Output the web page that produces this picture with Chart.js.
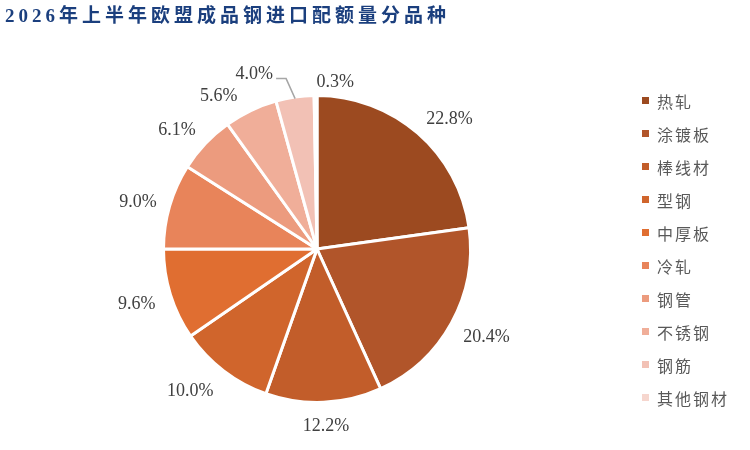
<!DOCTYPE html>
<html><head><meta charset="utf-8">
<script src="https://cdn.jsdelivr.net/npm/chart.js@4.4.1/dist/chart.umd.min.js"></script>
<style>
html,body{margin:0;padding:0;background:#fff;}
#wrap{position:relative;width:750px;height:450px;overflow:hidden;}
#title{position:absolute;left:5px;top:3px;font-family:"Liberation Serif","Noto Sans CJK SC",serif;font-weight:bold;font-size:19px;line-height:25px;letter-spacing:4px;color:#1B3F7E;white-space:nowrap;}
canvas{position:absolute;left:0;top:0;}
</style></head><body>
<div id="wrap"><canvas id="c" width="750" height="450"></canvas><div id="title">2026年上半年欧盟成品钢进口配额量分品种</div></div>
<script>
const categories = ["热轧","涂镀板","棒线材","型钢","中厚板","冷轧","钢管","不锈钢","钢筋","其他钢材"];
const shares = [22.8, 20.4, 12.2, 10.0, 9.6, 9.0, 6.1, 5.6, 4.0, 0.3];
const sliceColors = ["#9C4A20","#B1552A","#C25D2A","#D0652C","#E06E31","#E8845A","#EC9B7E","#F0AE99","#F2C1B5","#F6D6CE"];

const labelPlugin = {
  id: 'outLabels',
  afterDatasetsDraw(chart) {
    const ctx = chart.ctx;
    const meta = chart.getDatasetMeta(0);
    ctx.save();
    ctx.font = '18px "Liberation Serif", serif';
    ctx.fillStyle = '#404040';
    ctx.textAlign = 'center';
    ctx.textBaseline = 'middle';
    const clamp = v => Math.max(-1, Math.min(1, v));
    meta.data.forEach((arc, i) => {
      const p = arc.getProps(['x','y','startAngle','endAngle','outerRadius'], true);
      const mid = (p.startAngle + p.endAngle) / 2;
      const c = Math.cos(mid), s = Math.sin(mid);
      const txt = shares[i].toFixed(1) + '%';
      const w = ctx.measureText(txt).width, h = 14;
      const R = 152;
      if (i === 8) {
        const px = p.x + R * c, py = p.y + R * s;
        const ex = px - 9, ey = py - 20;
        const fx = ex - 10;
        ctx.strokeStyle = '#A6A6A6';
        ctx.lineWidth = 1.5;
        ctx.beginPath();
        ctx.moveTo(px, py); ctx.lineTo(ex, ey); ctx.lineTo(fx, ey);
        ctx.stroke();
        ctx.fillText(txt, fx - 3 - w / 2, ey - 4);
        return;
      }
      const d = R + 15;
      let x = p.x + d * c + (w / 2) * clamp(c * 1.5);
      let y = p.y + d * s + (h / 2) * clamp(s * 1.5) + 3;
      if (i === 3) { x -= 4; }
      if (i === 4) { x -= 2; }
      if (i === 7) { x -= 14; y += 2; }
      if (i === 9) { x += 20; y += 4; }
      ctx.fillText(txt, x, y);
    });
    ctx.restore();
  }
};

const legendPlugin = {
  id: 'sideLegend',
  afterDraw(chart) {
    const ctx = chart.ctx;
    ctx.save();
    ctx.font = '16px "Noto Sans CJK SC", sans-serif';
    ctx.letterSpacing = '2px';
    ctx.textAlign = 'left';
    ctx.textBaseline = 'middle';
    const x0 = 642, y0 = 100.5, step = 33;
    chart.data.labels.forEach((lab, i) => {
      const y = y0 + i * step;
      ctx.fillStyle = chart.data.datasets[0].backgroundColor[i];
      ctx.fillRect(x0, y - 3.5, 7, 7);
      ctx.fillStyle = '#595959';
      ctx.fillText(lab, x0 + 15, y + 1);
    });
    ctx.restore();
  }
};

new Chart(document.getElementById('c'), {
  type: 'pie',
  data: {
    labels: categories,
    datasets: [{
      data: shares,
      backgroundColor: sliceColors,
      borderColor: '#ffffff',
      borderWidth: 3,
      radius: 153.5
    }]
  },
  options: {
    responsive: false,
    animation: false,
    layout: { padding: { left: 20, right: 136, top: 60, bottom: 12 } },
    plugins: { legend: { display: false }, tooltip: { enabled: false }, title: { display: false } }
  },
  plugins: [labelPlugin, legendPlugin]
});
</script>
</body></html>
